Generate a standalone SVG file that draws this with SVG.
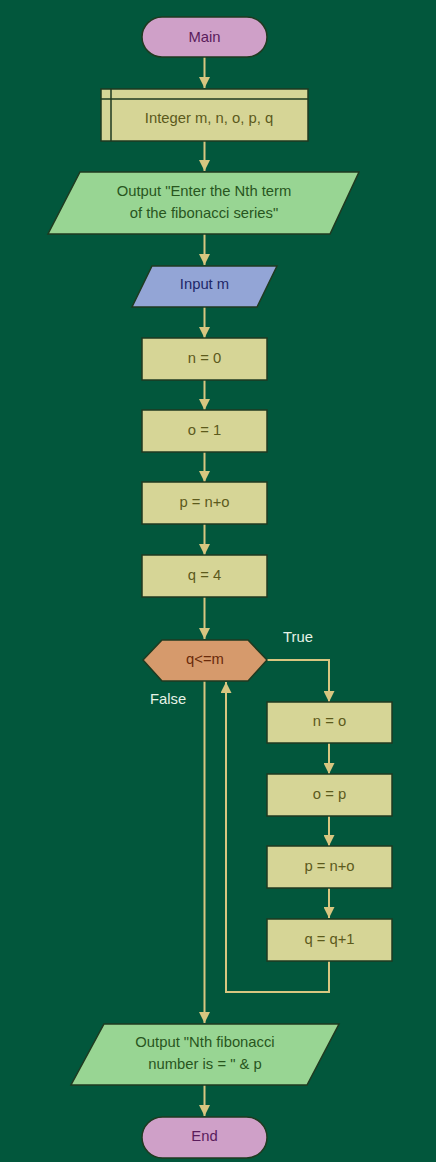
<svg xmlns="http://www.w3.org/2000/svg" width="436" height="1162" viewBox="0 0 436 1162">
<style>
text{font-family:"Liberation Sans",Arial,sans-serif;font-size:14.8px;text-anchor:middle;dominant-baseline:central}
.term{fill:#CFA0C8;stroke:#1f3a20;stroke-width:1.5}
.term-t{fill:#5A1C5C}
.proc{fill:#D6D596;stroke:#1f3a20;stroke-width:1.5}
.proc-t{fill:#5C5A1C}
.out{fill:#98D593;stroke:#1f3a20;stroke-width:1.5}
.out-t{fill:#28561E}
.inp{fill:#93A5D6;stroke:#1f3a20;stroke-width:1.5}
.inp-t{fill:#1E2868}
.dec{fill:#D69A6C;stroke:#1f3a20;stroke-width:1.5}
.dec-t{fill:#6A2A0A}
.conn{fill:none;stroke:#D8C680;stroke-width:2}
.lbl{fill:#E6F2E6;text-anchor:start}
</style>
<defs>
<marker id="ah" viewBox="0 0 10 10" refX="10" refY="5" markerWidth="5.5" markerHeight="5.5" orient="auto" markerUnits="strokeWidth">
<path d="M0,0 L10,5 L0,10 z" fill="#D8C680"/>
</marker>
</defs>
<rect width="436" height="1162" fill="#02573C"/>
<g id="connectors">
<path class="conn" d="M204.5,57 V88" marker-end="url(#ah)"/>
<path class="conn" d="M204.5,141 V171" marker-end="url(#ah)"/>
<path class="conn" d="M204.5,234 V265" marker-end="url(#ah)"/>
<path class="conn" d="M204.5,307 V338" marker-end="url(#ah)"/>
<path class="conn" d="M204.5,380 V410" marker-end="url(#ah)"/>
<path class="conn" d="M204.5,452 V482" marker-end="url(#ah)"/>
<path class="conn" d="M204.5,524 V555" marker-end="url(#ah)"/>
<path class="conn" d="M204.5,597 V639" marker-end="url(#ah)"/>
<path class="conn" d="M267,660 H329 V702" marker-end="url(#ah)"/>
<path class="conn" d="M329,743 V774" marker-end="url(#ah)"/>
<path class="conn" d="M329,816 V846" marker-end="url(#ah)"/>
<path class="conn" d="M329,888 V918" marker-end="url(#ah)"/>
<path class="conn" d="M329,961 V992 H226 V682" marker-end="url(#ah)"/>
<path class="conn" d="M204.5,681 V1023" marker-end="url(#ah)"/>
<path class="conn" d="M204.5,1085 V1116" marker-end="url(#ah)"/>
<text class="lbl" x="283" y="637">True</text>
<text class="lbl" x="150" y="699">False</text>
</g>
<g id="main"><rect class="term" x="142" y="17" width="125" height="40" rx="20"/><text class="term-t" x="204.5" y="37">Main</text></g>
<g id="declare"><rect class="proc" x="101" y="89" width="207" height="52"/><path d="M111,89 V141 M101,99 H308" stroke="#1f3a20" stroke-width="1.5" fill="none"/><text class="proc-t" x="209" y="118">Integer m, n, o, p, q</text></g>
<g id="output1"><polygon class="out" points="80,172 359,172 330,234 48,234"/><text class="out-t" x="204" y="191">Output "Enter the Nth term</text><text class="out-t" x="204" y="213">of the fibonacci series"</text></g>
<g id="input"><polygon class="inp" points="152,266 277,266 257,307 132,307"/><text class="inp-t" x="204.5" y="284">Input m</text></g>
<g id="n0"><rect class="proc" x="142" y="338" width="125" height="42"/><text class="proc-t" x="204.5" y="358">n = 0</text></g>
<g id="o1"><rect class="proc" x="142" y="410" width="125" height="42"/><text class="proc-t" x="204.5" y="430">o = 1</text></g>
<g id="pno"><rect class="proc" x="142" y="482" width="125" height="42"/><text class="proc-t" x="204.5" y="502">p = n+o</text></g>
<g id="q4"><rect class="proc" x="142" y="555" width="125" height="42"/><text class="proc-t" x="204.5" y="575">q = 4</text></g>
<g id="decision"><polygon class="dec" points="143,660 162,640 248,640 267,660 248,681 162,681"/><text class="dec-t" x="205" y="659">q&lt;=m</text></g>
<g id="no"><rect class="proc" x="267" y="702" width="125" height="41"/><text class="proc-t" x="329.5" y="721">n = o</text></g>
<g id="op"><rect class="proc" x="267" y="774" width="125" height="42"/><text class="proc-t" x="329.5" y="794">o = p</text></g>
<g id="pno2"><rect class="proc" x="267" y="846" width="125" height="42"/><text class="proc-t" x="329.5" y="866">p = n+o</text></g>
<g id="qinc"><rect class="proc" x="267" y="919" width="125" height="42"/><text class="proc-t" x="329.5" y="939">q = q+1</text></g>
<g id="output2"><polygon class="out" points="104,1024 339,1024 307,1085 71,1085"/><text class="out-t" x="205" y="1042">Output "Nth fibonacci</text><text class="out-t" x="205" y="1064">number is = " &amp; p</text></g>
<g id="end"><rect class="term" x="142" y="1117" width="125" height="41" rx="20.5"/><text class="term-t" x="204.5" y="1136">End</text></g>
</svg>
